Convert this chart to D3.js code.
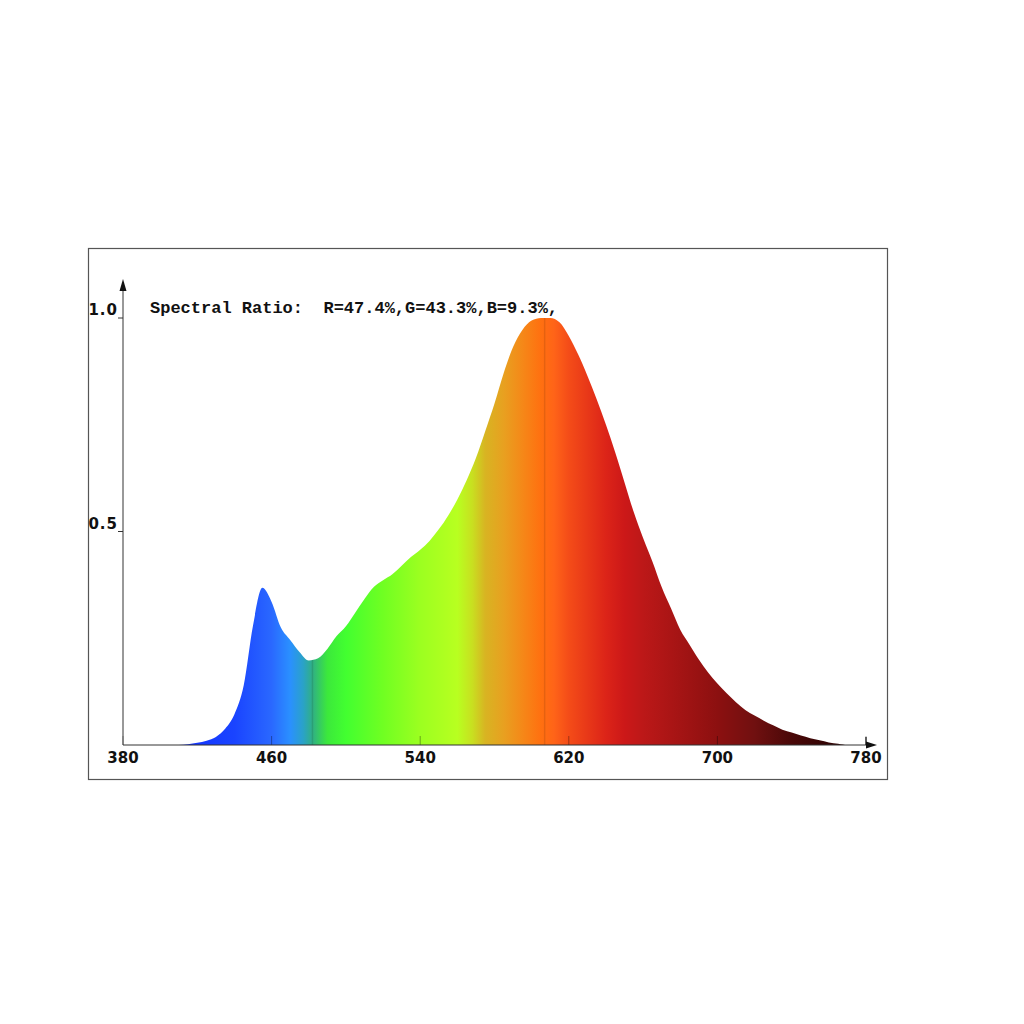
<!DOCTYPE html>
<html><head><meta charset="utf-8">
<script src="https://cdn.jsdelivr.net/npm/d3@7"></script>
<style>html,body{margin:0;padding:0;background:#fff}</style>
</head><body>
<script>
// ---- data ----
const wavelengths = [380,385,390,395,400,405,410,415,420,425,430,435,440,445,450,455,460,465,470,475,480,485,490,495,500,505,510,515,520,525,530,535,540,545,550,555,560,565,570,575,580,585,590,595,600,605,610,615,620,625,630,635,640,645,650,655,660,665,670,675,680,685,690,695,700,705,710,715,720,725,730,735,740,745,750,755,760,765,770,775,780];
const intensity = [0,0,0,0,0,0,0,0.002,0.005,0.01,0.019,0.038,0.072,0.14,0.28,0.368,0.335,0.275,0.246,0.218,0.198,0.203,0.225,0.255,0.278,0.31,0.342,0.37,0.386,0.40,0.42,0.44,0.457,0.478,0.505,0.537,0.575,0.62,0.672,0.735,0.80,0.872,0.932,0.972,0.994,1.0,1.0,0.99,0.958,0.915,0.865,0.81,0.75,0.685,0.615,0.545,0.485,0.43,0.37,0.32,0.27,0.235,0.2,0.17,0.144,0.121,0.1,0.082,0.069,0.057,0.046,0.036,0.029,0.022,0.016,0.011,0.006,0.003,0,0,0];
const colorStopNm = [410,440,460,470,477,482,490,500,520,540,560,568,575,585,595,605,612,620,630,640,650,660,680,700,720,740,760,780];
const colorStopHex = ["#1030ff","#1a44ff","#2a68ff","#2a90ff","#2aa2c8","#30b084","#3ce83c","#42ff30","#70ff22","#9cff20","#b8ff20","#c8e020","#d8b422","#e8a020","#f58818","#ff7010","#ff6418","#f44c18","#e83818","#dc2418","#cc1818","#bc1818","#a41414","#8c1010","#701010","#4a0808","#320404","#260202"];
const xTicks = [380,460,540,620,700,780];
const yTicks = [0.5,1.0];
const yTickLabels = ["0.5","1.0"];
const markerNm = [482,607];
const titleText = "Spectral Ratio:  R=47.4%,G=43.3%,B=9.3%,";

// ---- layout ----
const W = 1024, H = 1024;
const svg = d3.select("body").append("svg").attr("width", W).attr("height", H);
const x = d3.scaleLinear().domain([380,780]).range([123,866]);
const y = d3.scaleLinear().domain([0,1]).range([745,318]);

// frame
svg.append("rect").attr("x",88.5).attr("y",248.5).attr("width",799).attr("height",531)
  .attr("fill","none").attr("stroke","#555").attr("stroke-width",1.2);

const defs = svg.append("defs");
const grad = defs.append("linearGradient").attr("id","spec").attr("gradientUnits","userSpaceOnUse")
  .attr("x1",x(380)).attr("x2",x(780)).attr("y1",0).attr("y2",0);
colorStopNm.forEach((nm,i)=>{
  grad.append("stop").attr("offset",(nm-380)/400).attr("stop-color",colorStopHex[i]);
});

const data = wavelengths.map((w,i)=>({w, v: intensity[i]}));
const area = d3.area().x(d=>x(d.w)).y0(y(0)).y1(d=>y(d.v)).curve(d3.curveMonotoneX);

defs.append("clipPath").attr("id","clip").append("path").attr("d", area(data));

svg.append("path").attr("d", area(data)).attr("fill","url(#spec)");

// marker lines inside area
const g = svg.append("g").attr("clip-path","url(#clip)");
g.selectAll("line.m").data(markerNm).enter().append("line")
  .attr("x1",d=>x(d)).attr("x2",d=>x(d)).attr("y1",y(1.05)).attr("y2",y(0))
  .attr("stroke","rgba(0,0,0,0.1)").attr("stroke-width",1.5);

// x tick marks (small)
svg.selectAll("line.xt").data(xTicks).enter().append("line")
  .attr("x1",d=>x(d)).attr("x2",d=>x(d)).attr("y1",y(0)-9).attr("y2",y(0))
  .attr("stroke","rgba(0,0,0,0.35)").attr("stroke-width",1);

// axes
svg.append("line").attr("x1",x(380)).attr("x2",x(380)).attr("y1",y(0)).attr("y2",286)
  .attr("stroke","#333").attr("stroke-width",1);
svg.append("line").attr("x1",x(380)).attr("x2",872).attr("y1",y(0)).attr("y2",y(0))
  .attr("stroke","#333").attr("stroke-width",1);
svg.append("path").attr("d",`M${x(380)},279 L${x(380)-3.5},291 L${x(380)+3.5},291 Z`).attr("fill","#111");
svg.append("path").attr("d",`M877,${y(0)} L866,${y(0)-3.5} L866,${y(0)+3.5} Z`).attr("fill","#111");
svg.append("line").attr("x1",x(780)).attr("x2",x(780)).attr("y1",y(0)-8).attr("y2",y(0))
  .attr("stroke","#111").attr("stroke-width",1.2);

// y ticks
svg.selectAll("line.yt").data(yTicks).enter().append("line")
  .attr("x1",x(380)-5).attr("x2",x(380)).attr("y1",d=>y(d)).attr("y2",d=>y(d))
  .attr("stroke","#333").attr("stroke-width",1);
svg.selectAll("text.yl").data(yTicks).enter().append("text")
  .attr("x",x(380)-5).attr("y",d=>y(d)-3).attr("text-anchor","end")
  .attr("font-family","DejaVu Sans").attr("font-weight","bold").attr("font-size",15)
  .attr("letter-spacing","1px").attr("fill","#111")
  .text((d,i)=>yTickLabels[i]);

// x labels
svg.selectAll("text.xl").data(xTicks).enter().append("text")
  .attr("x",d=>x(d)).attr("y",763).attr("text-anchor","middle")
  .attr("font-family","DejaVu Sans").attr("font-weight","bold").attr("font-size",15)
  .attr("fill","#111").text(d=>d);

// title
svg.append("text").attr("x",150).attr("y",313)
  .attr("font-family","Liberation Mono").attr("font-weight","bold").attr("font-size",17)
  .attr("fill","#111").style("white-space","pre").text(titleText);
</script>
</body></html>
